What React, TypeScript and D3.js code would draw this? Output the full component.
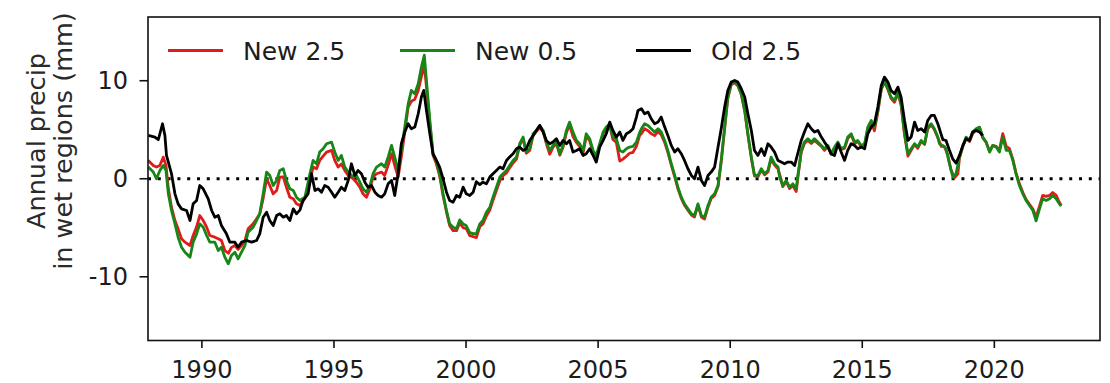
import React from "react";
import * as d3 from "d3";

// Annual precipitation anomaly in wet regions (mm), [decimal year, value]
const new25: [number, number][] = [
  [1987.97, 1.87], [1988.16, 1.36], [1988.28, 1.19], [1988.41, 1.36], [1988.54, 2.21], [1988.64, 1.36],
  [1988.73, -1.0], [1988.85, -2.9], [1988.98, -4.26], [1989.1, -5.11], [1989.23, -6.13], [1989.36, -6.47],
  [1989.55, -6.81], [1989.67, -5.79], [1989.8, -4.9], [1989.92, -3.75], [1990.05, -4.26], [1990.18, -4.94],
  [1990.3, -5.79], [1990.49, -5.96], [1990.62, -6.13], [1990.74, -6.3], [1990.87, -7.32], [1991.0, -7.6],
  [1991.12, -7.0], [1991.25, -6.81], [1991.37, -7.2], [1991.5, -6.81], [1991.63, -6.3], [1991.75, -5.11],
  [1991.94, -4.6], [1992.07, -4.09], [1992.19, -3.6], [1992.32, -2.0], [1992.45, 0.0], [1992.57, -0.69],
  [1992.7, -1.54], [1992.83, -1.2], [1992.95, 0.17], [1993.08, 0.2], [1993.2, -0.86], [1993.33, -1.88],
  [1993.46, -2.05], [1993.58, -2.56], [1993.71, -2.73], [1993.9, -2.0], [1994.09, -0.17], [1994.21, 1.19],
  [1994.34, 1.02], [1994.46, 1.87], [1994.59, 2.3], [1994.72, 2.72], [1994.91, 2.89], [1995.03, 1.87],
  [1995.16, 1.19], [1995.28, 1.5], [1995.41, 0.85], [1995.54, 0.34], [1995.73, 0.0], [1995.85, -0.35],
  [1995.98, -0.86], [1996.1, -1.54], [1996.23, -1.88], [1996.36, -1.03], [1996.48, 0.17], [1996.61, 0.51],
  [1996.8, 0.68], [1996.92, 0.34], [1997.05, 1.36], [1997.18, 2.55], [1997.3, 1.36], [1997.43, 0.17],
  [1997.55, 2.21], [1997.68, 4.76], [1997.81, 7.31], [1997.93, 7.9], [1998.06, 8.1], [1998.19, 9.0],
  [1998.31, 10.4], [1998.42, 11.6], [1998.5, 9.4], [1998.63, 5.6], [1998.75, 2.4], [1998.88, 1.5],
  [1999.0, 0.3], [1999.13, -1.7], [1999.26, -3.4], [1999.38, -4.8], [1999.51, -5.3], [1999.64, -5.3],
  [1999.76, -4.5], [1999.89, -5.0], [2000.01, -5.1], [2000.14, -5.8], [2000.27, -5.9], [2000.39, -6.0],
  [2000.52, -4.9], [2000.64, -4.6], [2000.77, -3.8], [2000.9, -3.2], [2001.02, -2.2], [2001.15, -1.2],
  [2001.28, -0.2], [2001.4, 0.3], [2001.53, 0.6], [2001.65, 1.1], [2001.78, 1.6], [2001.91, 2.0],
  [2002.03, 3.4], [2002.16, 4.1], [2002.28, 2.6], [2002.41, 2.9], [2002.54, 4.4], [2002.66, 4.8],
  [2002.79, 5.2], [2002.92, 4.8], [2003.04, 3.6], [2003.17, 2.5], [2003.29, 3.2], [2003.42, 3.6],
  [2003.55, 2.4], [2003.67, 3.2], [2003.8, 4.7], [2003.92, 5.5], [2004.05, 4.3], [2004.18, 3.7],
  [2004.3, 3.3], [2004.43, 2.6], [2004.55, 4.3], [2004.68, 3.9], [2004.81, 2.7], [2004.93, 2.2],
  [2005.06, 3.4], [2005.19, 4.6], [2005.31, 5.1], [2005.44, 5.4], [2005.56, 4.0], [2005.69, 3.7],
  [2005.82, 1.8], [2005.94, 2.0], [2006.07, 2.3], [2006.19, 2.6], [2006.32, 2.7], [2006.45, 3.3],
  [2006.57, 4.4], [2006.64, 4.6], [2006.76, 5.1], [2006.89, 4.9], [2007.01, 4.6], [2007.14, 4.4],
  [2007.27, 4.8], [2007.39, 4.5], [2007.52, 3.7], [2007.64, 2.7], [2007.77, 1.4], [2007.9, 0.2],
  [2008.02, -1.0], [2008.15, -2.0], [2008.27, -2.7], [2008.4, -3.2], [2008.53, -3.7], [2008.65, -3.9],
  [2008.78, -2.7], [2008.91, -3.9], [2009.03, -4.1], [2009.16, -2.9], [2009.28, -2.0], [2009.41, -1.7],
  [2009.54, -0.8], [2009.66, 1.7], [2009.79, 5.1], [2009.91, 8.2], [2010.04, 9.6], [2010.17, 9.8],
  [2010.29, 9.5], [2010.42, 8.6], [2010.55, 6.9], [2010.67, 4.5], [2010.8, 2.1], [2010.92, 0.3],
  [2011.05, 0.2], [2011.18, 0.9], [2011.3, 0.4], [2011.43, 0.7], [2011.55, 2.0], [2011.68, 1.4],
  [2011.81, 1.0], [2011.93, -0.1], [2011.99, -0.8], [2012.12, -0.3], [2012.25, -1.0], [2012.37, -0.7],
  [2012.5, -1.3], [2012.58, 0.5], [2012.69, 2.7], [2012.81, 3.6], [2012.94, 3.9], [2013.07, 3.6],
  [2013.19, 3.9], [2013.32, 3.6], [2013.45, 3.3], [2013.57, 2.9], [2013.7, 3.3], [2013.82, 2.5],
  [2013.95, 3.1], [2014.08, 3.6], [2014.2, 3.0], [2014.33, 3.1], [2014.45, 4.1], [2014.58, 4.5],
  [2014.71, 3.6], [2014.83, 3.8], [2014.96, 3.3], [2015.09, 3.5], [2015.21, 5.1], [2015.34, 5.8],
  [2015.46, 4.9], [2015.59, 6.8], [2015.72, 9.1], [2015.84, 9.9], [2015.97, 9.1], [2016.09, 8.2],
  [2016.22, 7.8], [2016.35, 8.7], [2016.47, 7.5], [2016.6, 4.5], [2016.73, 2.3], [2016.85, 2.9],
  [2016.98, 3.5], [2017.1, 3.1], [2017.23, 3.8], [2017.36, 3.5], [2017.48, 5.1], [2017.61, 5.5],
  [2017.73, 5.0], [2017.86, 4.2], [2017.99, 3.3], [2018.11, 3.3], [2018.24, 2.4], [2018.36, 0.9],
  [2018.49, 0.1], [2018.62, 0.5], [2018.68, 2.1], [2018.81, 3.3], [2018.93, 4.1], [2019.06, 3.8],
  [2019.18, 4.6], [2019.31, 5.0], [2019.44, 5.2], [2019.56, 4.2], [2019.69, 3.7], [2019.82, 2.8],
  [2019.94, 3.4], [2020.07, 3.3], [2020.19, 2.9], [2020.32, 4.6], [2020.45, 3.3], [2020.57, 3.1],
  [2020.7, 2.0], [2020.82, 0.6], [2020.95, -0.5], [2021.08, -1.4], [2021.2, -2.1], [2021.33, -2.6],
  [2021.46, -3.1], [2021.58, -3.9], [2021.71, -2.8], [2021.83, -1.7], [2021.96, -1.8], [2022.09, -1.7],
  [2022.21, -1.4], [2022.34, -1.7], [2022.46, -2.4], [2022.53, -2.7],
];

const new05: [number, number][] = [
  [1987.97, 1.19], [1988.16, 0.68], [1988.28, 0.0], [1988.41, 0.85], [1988.54, 1.36], [1988.64, 0.85],
  [1988.73, -1.54], [1988.85, -3.24], [1988.98, -4.6], [1989.1, -5.96], [1989.23, -6.98], [1989.36, -7.49],
  [1989.55, -8.0], [1989.67, -6.47], [1989.8, -5.62], [1989.92, -4.6], [1990.05, -4.94], [1990.18, -5.79],
  [1990.3, -6.47], [1990.49, -6.47], [1990.62, -7.32], [1990.74, -6.98], [1990.87, -8.0], [1991.0, -8.68],
  [1991.12, -7.83], [1991.25, -7.49], [1991.37, -8.17], [1991.5, -7.49], [1991.63, -6.81], [1991.75, -5.45],
  [1991.94, -4.94], [1992.07, -4.26], [1992.19, -3.58], [1992.32, -1.54], [1992.45, 0.68], [1992.57, 0.34],
  [1992.7, -0.69], [1992.83, -0.17], [1992.95, 0.85], [1993.08, 1.02], [1993.2, -0.17], [1993.33, -1.03],
  [1993.46, -1.2], [1993.58, -1.88], [1993.71, -2.22], [1993.9, -1.88], [1994.09, 0.51], [1994.21, 1.87],
  [1994.34, 1.53], [1994.46, 2.72], [1994.59, 3.06], [1994.72, 3.57], [1994.91, 3.74], [1995.03, 2.72],
  [1995.16, 1.87], [1995.28, 2.38], [1995.41, 1.19], [1995.54, 0.68], [1995.73, 0.17], [1995.85, 0.34],
  [1995.98, -0.35], [1996.1, -1.03], [1996.23, -1.37], [1996.36, -0.69], [1996.48, 0.51], [1996.61, 1.19],
  [1996.8, 1.53], [1996.92, 1.19], [1997.05, 2.21], [1997.18, 3.4], [1997.3, 2.21], [1997.43, 0.85],
  [1997.55, 2.89], [1997.68, 5.27], [1997.81, 7.65], [1997.93, 9.01], [1998.06, 8.67], [1998.19, 9.69],
  [1998.31, 11.39], [1998.42, 12.6], [1998.5, 10.03], [1998.63, 5.95], [1998.75, 2.55], [1998.88, 1.7],
  [1999.0, 0.51], [1999.13, -1.54], [1999.26, -3.24], [1999.38, -4.6], [1999.51, -4.94], [1999.64, -5.11],
  [1999.76, -4.2], [1999.89, -4.6], [2000.01, -4.8], [2000.14, -5.5], [2000.27, -5.6], [2000.39, -5.6],
  [2000.52, -4.6], [2000.64, -4.26], [2000.77, -3.41], [2000.9, -2.9], [2001.02, -1.88], [2001.15, -0.86],
  [2001.28, 0.17], [2001.4, 0.51], [2001.53, 0.85], [2001.65, 1.36], [2001.78, 1.87], [2001.91, 2.21],
  [2002.03, 3.57], [2002.16, 4.25], [2002.28, 2.72], [2002.41, 3.06], [2002.54, 4.59], [2002.66, 4.93],
  [2002.79, 5.44], [2002.92, 4.93], [2003.04, 3.74], [2003.17, 2.89], [2003.29, 3.4], [2003.42, 3.74],
  [2003.55, 2.55], [2003.67, 3.4], [2003.8, 4.93], [2003.92, 5.78], [2004.05, 4.76], [2004.18, 3.91],
  [2004.3, 3.57], [2004.43, 2.89], [2004.55, 4.59], [2004.68, 4.08], [2004.81, 2.89], [2004.93, 2.38],
  [2005.06, 3.57], [2005.19, 4.76], [2005.31, 5.27], [2005.44, 5.61], [2005.56, 4.25], [2005.69, 4.08],
  [2005.82, 2.89], [2005.94, 2.72], [2006.07, 3.06], [2006.19, 3.23], [2006.32, 3.3], [2006.45, 3.74],
  [2006.57, 4.7], [2006.64, 5.1], [2006.76, 5.61], [2006.89, 5.44], [2007.01, 5.1], [2007.14, 4.76],
  [2007.27, 5.1], [2007.39, 4.76], [2007.52, 3.91], [2007.64, 2.89], [2007.77, 1.53], [2007.9, 0.34],
  [2008.02, -0.86], [2008.15, -1.88], [2008.27, -2.56], [2008.4, -3.07], [2008.53, -3.58], [2008.65, -3.75],
  [2008.78, -2.56], [2008.91, -3.75], [2009.03, -3.92], [2009.16, -2.73], [2009.28, -1.88], [2009.41, -1.54],
  [2009.54, -0.69], [2009.66, 1.87], [2009.79, 5.27], [2009.91, 8.33], [2010.04, 9.69], [2010.17, 9.86],
  [2010.29, 9.52], [2010.42, 8.67], [2010.55, 6.97], [2010.67, 4.59], [2010.8, 2.21], [2010.92, 0.34],
  [2011.05, 0.34], [2011.18, 1.02], [2011.3, 0.51], [2011.43, 0.85], [2011.55, 2.21], [2011.68, 1.53],
  [2011.81, 1.19], [2011.87, 0.17], [2011.99, -0.69], [2012.12, -0.17], [2012.25, -0.86], [2012.37, -0.52],
  [2012.5, -1.03], [2012.56, 0.3], [2012.63, 1.6], [2012.69, 2.89], [2012.81, 3.74], [2012.94, 4.08],
  [2013.07, 3.74], [2013.19, 4.08], [2013.32, 3.74], [2013.45, 3.4], [2013.57, 3.06], [2013.7, 3.4],
  [2013.82, 2.55], [2013.95, 3.23], [2014.08, 3.74], [2014.2, 3.06], [2014.33, 3.23], [2014.45, 4.25],
  [2014.58, 4.59], [2014.71, 3.74], [2014.83, 3.91], [2014.96, 3.4], [2015.09, 3.57], [2015.21, 5.27],
  [2015.34, 5.95], [2015.46, 5.27], [2015.59, 6.97], [2015.72, 9.18], [2015.84, 10.03], [2015.97, 9.18],
  [2016.09, 8.33], [2016.22, 7.99], [2016.35, 8.84], [2016.47, 7.65], [2016.6, 4.59], [2016.73, 2.55],
  [2016.85, 3.06], [2016.98, 3.57], [2017.1, 3.23], [2017.23, 3.91], [2017.36, 3.57], [2017.48, 5.27],
  [2017.61, 5.61], [2017.73, 5.1], [2017.86, 4.25], [2017.92, 3.57], [2018.05, 3.4], [2018.17, 3.06],
  [2018.3, 1.53], [2018.43, 0.17], [2018.55, 0.51], [2018.68, 2.21], [2018.81, 3.4], [2018.93, 4.25],
  [2019.06, 3.91], [2019.18, 4.76], [2019.31, 5.1], [2019.44, 5.27], [2019.56, 4.25], [2019.69, 3.74],
  [2019.82, 2.72], [2019.94, 3.4], [2020.07, 3.23], [2020.19, 2.72], [2020.32, 4.25], [2020.45, 2.89],
  [2020.57, 2.89], [2020.7, 1.87], [2020.82, 0.51], [2020.95, -0.69], [2021.08, -1.54], [2021.2, -2.22],
  [2021.33, -2.73], [2021.46, -3.24], [2021.58, -4.3], [2021.71, -3.07], [2021.83, -2.05], [2021.96, -2.22],
  [2022.09, -2.05], [2022.21, -1.71], [2022.34, -2.05], [2022.46, -2.56], [2022.53, -2.8],
];

const old25: [number, number][] = [
  [1987.97, 4.42], [1988.22, 4.25], [1988.35, 3.98], [1988.51, 5.61], [1988.6, 4.42], [1988.66, 2.38],
  [1988.85, 0.51], [1988.98, -1.54], [1989.1, -2.56], [1989.23, -3.07], [1989.42, -3.24], [1989.55, -4.26],
  [1989.67, -2.56], [1989.8, -2.22], [1989.92, -0.69], [1990.05, -1.03], [1990.24, -2.05], [1990.37, -3.24],
  [1990.49, -3.92], [1990.62, -3.75], [1990.74, -4.77], [1990.93, -5.62], [1991.06, -6.47], [1991.25, -6.47],
  [1991.37, -6.98], [1991.5, -6.47], [1991.69, -6.3], [1991.88, -6.47], [1992.07, -6.3], [1992.19, -5.62],
  [1992.32, -3.92], [1992.45, -3.41], [1992.57, -4.26], [1992.7, -4.77], [1992.83, -3.75], [1992.95, -3.58],
  [1993.08, -3.92], [1993.2, -3.75], [1993.33, -4.26], [1993.46, -3.07], [1993.58, -3.58], [1993.71, -3.2],
  [1993.83, -2.22], [1994.02, -1.54], [1994.15, 0.51], [1994.28, -1.2], [1994.4, -1.03], [1994.53, -1.37],
  [1994.65, -0.69], [1994.78, -0.86], [1994.91, -1.37], [1995.03, -1.88], [1995.16, -1.37], [1995.28, -0.86],
  [1995.41, -1.2], [1995.54, -0.17], [1995.66, 1.53], [1995.79, 0.34], [1995.91, 0.85], [1996.04, 0.51],
  [1996.17, -0.35], [1996.29, -0.86], [1996.42, -0.69], [1996.55, -1.37], [1996.67, -1.71], [1996.8, -1.88],
  [1996.92, -1.54], [1997.05, -0.52], [1997.18, -0.17], [1997.3, -1.71], [1997.43, 0.51], [1997.55, 3.57],
  [1997.68, 4.76], [1997.81, 5.61], [1997.93, 5.1], [1998.06, 5.27], [1998.19, 6.63], [1998.31, 8.33],
  [1998.4, 9.01], [1998.5, 6.97], [1998.63, 4.59], [1998.75, 2.55], [1998.88, 1.87], [1999.0, 1.19],
  [1999.13, 0.0], [1999.26, -1.37], [1999.38, -2.22], [1999.51, -2.39], [1999.64, -1.71], [1999.76, -1.88],
  [1999.89, -0.86], [2000.01, -1.54], [2000.14, -1.71], [2000.27, -1.37], [2000.39, -0.3], [2000.52, -0.6],
  [2000.64, -0.35], [2000.77, -0.52], [2000.9, 0.17], [2001.02, 0.51], [2001.15, 0.85], [2001.28, 1.19],
  [2001.4, 1.02], [2001.53, 1.87], [2001.65, 2.21], [2001.78, 2.55], [2001.91, 3.06], [2002.03, 3.23],
  [2002.16, 2.89], [2002.28, 3.06], [2002.41, 3.91], [2002.54, 4.42], [2002.66, 4.93], [2002.79, 5.44],
  [2002.92, 4.76], [2003.04, 3.91], [2003.17, 3.57], [2003.29, 3.74], [2003.42, 4.08], [2003.55, 3.4],
  [2003.67, 3.91], [2003.8, 3.57], [2003.92, 3.91], [2004.05, 2.72], [2004.18, 2.89], [2004.3, 3.06],
  [2004.43, 2.38], [2004.55, 2.55], [2004.68, 3.06], [2004.81, 2.38], [2004.93, 1.7], [2005.06, 3.23],
  [2005.19, 3.91], [2005.31, 4.59], [2005.44, 5.78], [2005.56, 4.93], [2005.69, 4.25], [2005.82, 4.76],
  [2005.94, 3.91], [2006.07, 4.59], [2006.19, 4.76], [2006.32, 5.1], [2006.45, 6.29], [2006.51, 6.97],
  [2006.64, 7.14], [2006.76, 6.63], [2006.89, 6.8], [2007.01, 6.12], [2007.14, 5.61], [2007.27, 5.78],
  [2007.39, 6.29], [2007.52, 5.27], [2007.64, 4.42], [2007.77, 3.4], [2007.9, 2.72], [2008.02, 3.06],
  [2008.15, 2.55], [2008.27, 1.87], [2008.4, 1.02], [2008.53, 0.34], [2008.65, 0.0], [2008.78, 1.19],
  [2008.91, -0.17], [2009.03, -0.69], [2009.16, 0.34], [2009.28, 0.68], [2009.41, 1.19], [2009.54, 3.23],
  [2009.66, 5.1], [2009.79, 7.31], [2009.91, 9.01], [2010.04, 9.86], [2010.17, 10.03], [2010.29, 9.86],
  [2010.42, 9.18], [2010.55, 8.33], [2010.67, 6.63], [2010.8, 4.93], [2010.92, 2.89], [2011.05, 2.38],
  [2011.18, 3.06], [2011.3, 2.38], [2011.43, 3.57], [2011.55, 3.23], [2011.68, 2.72], [2011.81, 1.87],
  [2011.93, 1.7], [2012.06, 1.53], [2012.18, 1.7], [2012.31, 1.7], [2012.44, 1.36], [2012.56, 2.6],
  [2012.69, 3.91], [2012.81, 4.76], [2012.94, 5.61], [2013.07, 5.1], [2013.19, 4.76], [2013.32, 4.93],
  [2013.45, 4.25], [2013.57, 3.74], [2013.7, 3.23], [2013.82, 2.55], [2013.95, 2.38], [2014.08, 3.57],
  [2014.2, 2.72], [2014.33, 1.87], [2014.45, 2.89], [2014.58, 3.57], [2014.71, 3.4], [2014.83, 3.06],
  [2014.96, 3.23], [2015.09, 3.06], [2015.21, 4.59], [2015.34, 5.27], [2015.46, 5.61], [2015.59, 7.31],
  [2015.72, 9.52], [2015.84, 10.37], [2015.97, 9.86], [2016.09, 9.01], [2016.22, 8.67], [2016.35, 9.35],
  [2016.47, 8.33], [2016.6, 5.95], [2016.73, 3.91], [2016.85, 4.25], [2016.98, 5.78], [2017.1, 4.93],
  [2017.23, 5.1], [2017.36, 4.76], [2017.48, 5.95], [2017.61, 6.46], [2017.73, 6.46], [2017.86, 5.61],
  [2017.99, 4.5], [2018.05, 4.0], [2018.17, 3.9], [2018.3, 2.9], [2018.43, 2.0], [2018.55, 1.6],
  [2018.68, 2.38], [2018.81, 3.4], [2018.93, 4.08], [2019.06, 3.91], [2019.18, 4.76], [2019.31, 4.93],
  [2019.44, 4.76], [2019.56, 4.42],
];

const seriesNames = ["New 2.5", "New 0.5", "Old 2.5"];
const seriesColors = ["#e01b1b", "#168716", "#000000"];
const xTicks = [1990, 1995, 2000, 2005, 2010, 2015, 2020];
const yTicks = [-10, 0, 10];
const yLabelLines = ["Annual precip", "in wet regions (mm)"];

const W = 1110;
const H = 383;
const FONT = "DejaVu Sans, sans-serif";
const TEXT = "#1c1c1c";

export default function App() {
  const left = 148;
  const right = 1100;
  const top = 17;
  const bottom = 340.5;

  const x = d3.scaleLinear().domain([1987.96, 2024]).range([left, right]);
  const y = d3.scaleLinear().domain([-16.5, 16.5]).range([bottom, top]);

  const line = d3
    .line<[number, number]>()
    .x((d) => x(d[0]))
    .y((d) => y(d[1]));

  const all = [new25, new05, old25];

  const legendX = [168, 400, 636];
  const legendY = 50.5;

  return (
    <svg
      width={W}
      height={H}
      style={{ position: "absolute", left: 0, top: 0, background: "#fff" }}
      fontFamily={FONT}
    >
      <defs>
        <clipPath id="plot-clip">
          <rect x={left} y={top} width={right - left} height={bottom - top} />
        </clipPath>
      </defs>

      {/* zero reference */}
      <line
        x1={left}
        x2={right}
        y1={y(0)}
        y2={y(0)}
        stroke="#000"
        strokeWidth={3}
        strokeDasharray="3 6.8"
      />

      <g clipPath="url(#plot-clip)">
        {all.map((s, i) => (
          <path
            key={seriesNames[i]}
            d={line(s) ?? ""}
            fill="none"
            stroke={seriesColors[i]}
            strokeWidth={2.8}
            strokeLinejoin="round"
          />
        ))}
      </g>

      {/* legend */}
      {seriesNames.map((name, i) => (
        <g key={name}>
          <line
            x1={legendX[i]}
            x2={legendX[i] + 55}
            y1={legendY}
            y2={legendY}
            stroke={seriesColors[i]}
            strokeWidth={3}
          />
          <text x={legendX[i] + 75} y={legendY + 9} fontSize={25} fill={TEXT}>
            {name}
          </text>
        </g>
      ))}

      {/* frame */}
      <rect
        x={left}
        y={top}
        width={right - left}
        height={bottom - top}
        fill="none"
        stroke="#111"
        strokeWidth={1.6}
      />

      {/* x axis */}
      {xTicks.map((t) => (
        <g key={t}>
          <line x1={x(t)} x2={x(t)} y1={bottom} y2={bottom + 7.5} stroke="#111" strokeWidth={1.6} />
          <text x={x(t)} y={378} fontSize={24} textAnchor="middle" fill={TEXT}>
            {t}
          </text>
        </g>
      ))}

      {/* y axis */}
      {yTicks.map((t) => (
        <g key={t}>
          <line x1={left - 8.5} x2={left} y1={y(t)} y2={y(t)} stroke="#111" strokeWidth={1.6} />
          <text
            x={128}
            y={y(t) + 8.5}
            fontSize={24}
            textAnchor="end"
            fill={TEXT}
          >
            {t < 0 ? `-${Math.abs(t)}` : t}
          </text>
        </g>
      ))}

      {/* y label */}
      {yLabelLines.map((ln, i) => (
        <text
          key={ln}
          transform={`translate(${45 + i * 26.5},141) rotate(-90)`}
          fontSize={25.5}
          textAnchor="middle"
          fill="#2a2a2a"
        >
          {ln}
        </text>
      ))}
    </svg>
  );
}
